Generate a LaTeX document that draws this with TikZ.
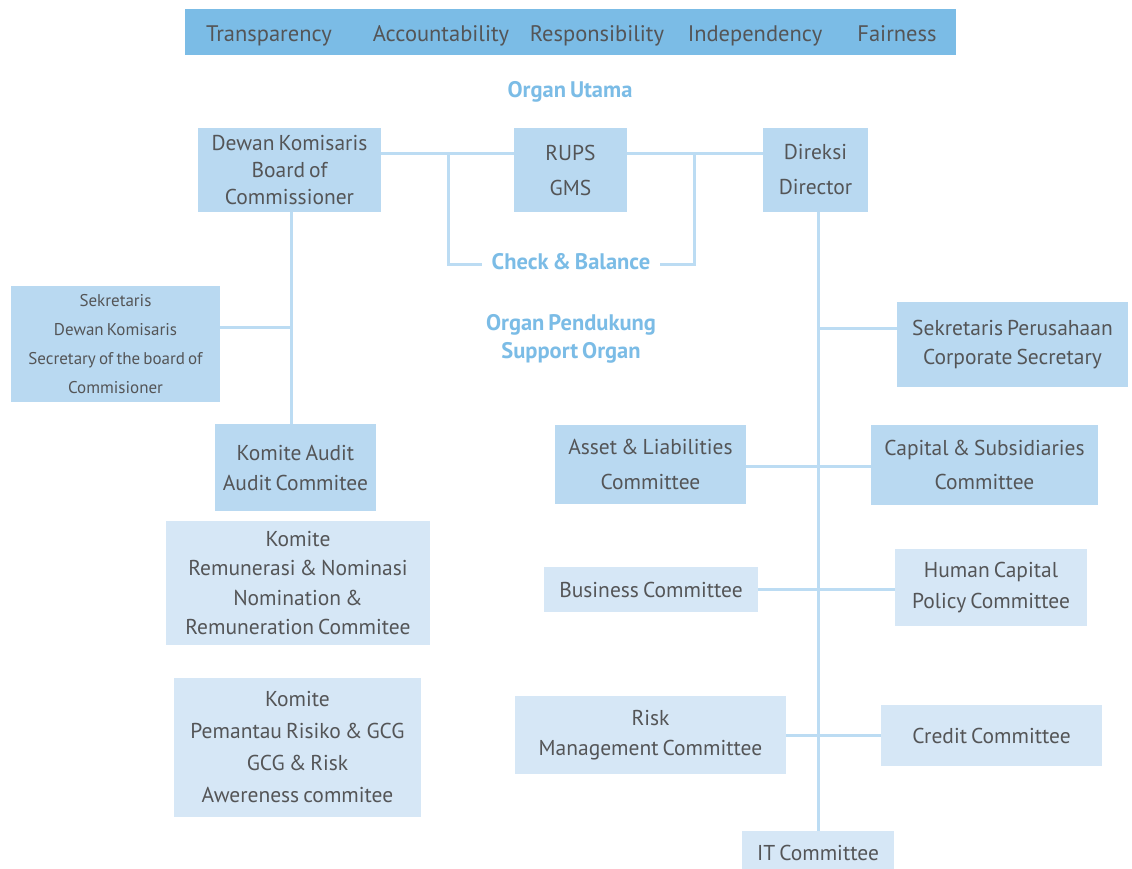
\documentclass[tikz,border=0pt]{standalone}
\usepackage{fontspec}
\setmainfont[WordSpace=0.7]{PT Sans}
\definecolor{barblue}{HTML}{7BBCE6}
\definecolor{boxdark}{HTML}{B9D9F1}
\definecolor{boxlight}{HTML}{D6E7F6}
\definecolor{linkblue}{HTML}{BCDCF3}
\definecolor{txtgray}{HTML}{545557}
\tikzset{
  base/.style={inner sep=0pt, align=center, text=txtgray, font=\fontsize{21.5}{27}\selectfont},
  darkbox/.style={base, fill=boxdark},
  lightbox/.style={base, fill=boxlight},
  heading/.style={inner sep=0pt, align=center, text=barblue, font=\fontsize{22.5}{28}\selectfont\bfseries},
  value/.style={inner sep=0pt, anchor=base, text=txtgray, font=\fontsize{22.5}{25}\selectfont},
  link/.style={draw=linkblue, line width=3pt}
}
\begin{document}
\begin{tikzpicture}[x=1pt,y=-1pt]
\useasboundingbox (0,0) rectangle (1132,868);
\fill[white] (0,0) rectangle (1132,868);

% values bar
\node[fill=barblue, minimum width=771pt, minimum height=46pt, inner sep=0pt] (bar) at (570.5,32) {};
\node[value] (v1) at (269,41) {Transparency};
\node[value] (v2) at (441,41) {Accountability};
\node[value] (v3) at (597,41) {Responsibility};
\node[value] (v4) at (755,41) {Independency};
\node[value] (v5) at (897,41) {Fairness};

\node[heading] (utama) at (570,92) {Organ Utama};

% main organs
\node[darkbox, minimum width=183pt, minimum height=84pt] (dk) at (289.5,170) {Dewan Komisaris\\Board of\\Commissioner};
\node[darkbox, minimum width=113pt, minimum height=84pt, font=\fontsize{21.5}{35}\selectfont] (rups) at (570.5,170) {RUPS\\GMS};
\node[darkbox, minimum width=105pt, minimum height=84pt, font=\fontsize{21.5}{35}\selectfont] (dir) at (815.5,170) {Direksi\\Director};

\draw[link] (dk.east |- 0,153) -- (rups.west |- 0,153);
\draw[link] (rups.east |- 0,153) -- (dir.west |- 0,153);

% check and balance
\node[heading] (cb) at (571,262) {Check \& Balance};
\coordinate (cbl) at (448,153);
\coordinate (cbr) at (694,153);
\draw[link] (cbl) |- ([xshift=-10pt]cb.west |- 0,264);
\draw[link] (cbr) |- ([xshift=10pt]cb.east |- 0,264);

\node[heading] (pendukung) at (571,339) {Organ Pendukung\\Support Organ};

% commissioner side
\node[darkbox, minimum width=209pt, minimum height=116pt, font=\fontsize{17}{29}\selectfont] (sekdk) at (115.5,344) {Sekretaris\\Dewan Komisaris\\Secretary of the board of\\Commisioner};
\node[darkbox, minimum width=161pt, minimum height=87pt, font=\fontsize{21.5}{30}\selectfont] (audit) at (295.5,467.5) {Komite Audit\\Audit Commitee};
\node[lightbox, minimum width=264pt, minimum height=124pt, font=\fontsize{21.5}{29.5}\selectfont] (remun) at (298,583) {Komite\\Remunerasi \& Nominasi\\Nomination \&\\Remuneration Commitee};
\node[lightbox, minimum width=247pt, minimum height=139pt, font=\fontsize{21.5}{32}\selectfont] (pgcg) at (297.5,747.5) {Komite\\Pemantau Risiko \& GCG\\GCG \& Risk\\Awereness commitee};

\coordinate (dkj) at (291,327);
\draw[link] (dk.south -| dkj) -- (audit.north -| dkj);
\draw[link] (sekdk.east |- dkj) -- (dkj);

% director side
\coordinate (spine) at (818,830);
\node[darkbox, minimum width=231pt, minimum height=85pt, font=\fontsize{21.5}{29}\selectfont] (sekper) at (1012.5,344.5) {Sekretaris Perusahaan\\Corporate Secretary};
\node[darkbox, minimum width=191pt, minimum height=79pt, font=\fontsize{21.5}{35}\selectfont] (alco) at (650.5,464.5) {Asset \& Liabilities\\Committee};
\node[darkbox, minimum width=227pt, minimum height=80pt, font=\fontsize{21.5}{34}\selectfont] (capital) at (984.5,465) {Capital \& Subsidiaries\\Committee};
\node[lightbox, minimum width=214pt, minimum height=45pt] (business) at (651,589.5) {Business Committee};
\node[lightbox, minimum width=192pt, minimum height=77pt, font=\fontsize{21.5}{31}\selectfont] (human) at (991,587.5) {Human Capital\\Policy Committee};
\node[lightbox, minimum width=271pt, minimum height=78pt, font=\fontsize{21.5}{30}\selectfont] (risk) at (650.5,735) {Risk\\Management Committee};
\node[lightbox, minimum width=221pt, minimum height=61pt] (credit) at (991.5,735.5) {Credit Committee};
\node[lightbox, minimum width=152pt, minimum height=50pt, anchor=north] (it) at (818,831) {};
\node[base] (itlabel) at (818,853) {IT Committee};

\draw[link] (dir.south -| spine) -- (it.north);
\draw[link] (spine |- 0,328) -- (sekper.west |- 0,328);
\draw[link] (alco.east |- 0,466) -- (capital.west |- 0,466);
\draw[link] (business.east |- 0,589) -- (human.west |- 0,589);
\draw[link] (risk.east |- 0,735) -- (credit.west |- 0,735);
\end{tikzpicture}
\end{document}
